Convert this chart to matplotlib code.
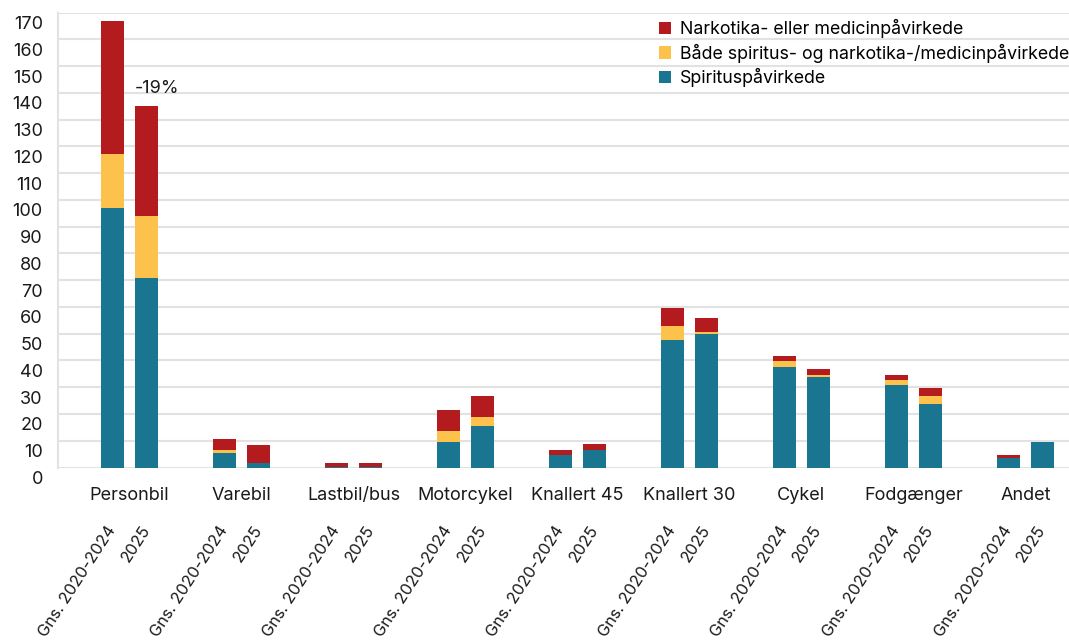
import numpy as np
import matplotlib
matplotlib.use("Agg")
from matplotlib import pyplot as plt
from matplotlib import transforms

plt.rcParams['font.family'] = ['Inter', 'DejaVu Sans']

categories = ["Personbil", "Varebil", "Lastbil/bus", "Motorcykel", "Knallert 45",
              "Knallert 30", "Cykel", "Fodgænger", "Andet"]
periods = ["Gns. 2020-2024", "2025"]

# values per category: (Gns. 2020-2024, 2025)
spiritus = [(97, 71), (5.5, 1.5), (0.2, 0.2), (9.5, 15.5), (4.7, 6.5),
            (47.7, 49.9), (37.6, 33.8), (30.8, 23.7), (3.6, 9.5)]
begge = [(20, 23), (1, 0), (0.1, 0), (4.1, 3.4), (0, 0),
         (5.2, 0.8), (2.2, 0.8), (1.9, 3.0), (0, 0)]
narko = [(50, 41), (4.1, 7), (1.4, 1.4), (7.9, 7.8), (1.8, 2.3),
         (6.7, 5.2), (1.9, 2.2), (1.9, 3.0), (1.1, 0)]

series_labels = ["Spirituspåvirkede",
                 "Både spiritus- og narkotika-/medicinpåvirkede",
                 "Narkotika- eller medicinpåvirkede"]
colors = ["#1a7690", "#fdc24b", "#b31b1e"]

annotation = "-19%"
txt = '#1a1a1a'

fig = plt.figure(figsize=(10.69, 6.42), dpi=100)
ax = fig.add_axes([0.0543, 0.2718, 0.9457, 0.7084])

x = np.arange(len(categories))
offsets = [-0.152, 0.152]
width = 0.205

handles = []
for j, off in enumerate(offsets):
    bottom = np.zeros(len(categories))
    for k, data in enumerate([spiritus, begge, narko]):
        vals = np.array([d[j] for d in data])
        h = ax.bar(x + off, vals, width, bottom=bottom, color=colors[k],
                   label=series_labels[k] if j == 0 else None, zorder=3)
        if j == 0:
            handles.append(h)
        bottom += vals
    if j == 1:
        totals_2025 = bottom

ax.text(x[0] + offsets[1] - width / 2, totals_2025[0] + 6.5, annotation,
        ha='left', va='center', fontsize=13, color=txt)

ax.set_xlim(-0.638, 8.39)
ax.set_ylim(0, 170)
ax.set_yticks(np.arange(0, 171, 10))
ax.grid(axis='y', color='#e2e2e2', linewidth=1.5, zorder=0)
for s in ['top', 'right', 'bottom']:
    ax.spines[s].set_visible(False)
ax.spines['left'].set_color('#e2e2e2')
ax.spines['left'].set_linewidth(1.5)
ax.tick_params(axis='y', length=0, pad=11, labelsize=13, labelcolor=txt)

offset = transforms.ScaledTranslation(0, -10 / 100, fig.dpi_scale_trans)
for lab in ax.get_yticklabels():
    lab.set_transform(lab.get_transform() + offset)

ticks = np.concatenate([x + offsets[0], x + offsets[1]])
labels = [periods[0]] * len(x) + [periods[1]] * len(x)
ax.set_xticks(ticks)
ax.set_xticklabels(labels, rotation=57, ha='right', va='center',
                   rotation_mode='anchor', fontsize=11.8, color=txt)
ax.tick_params(axis='x', length=0, pad=43)

for i, c in enumerate(categories):
    ax.text(x[i], -0.062, c, transform=ax.get_xaxis_transform(),
            ha='center', va='center', fontsize=13, color=txt)

ax.legend(handles[::-1], series_labels[::-1], loc='upper left',
          bbox_to_anchor=(652 / 1069, 1 - 12 / 642), bbox_transform=fig.transFigure,
          frameon=False, fontsize=12.8, handlelength=0.68, handleheight=0.68,
          handletextpad=0.5, labelspacing=0.3, borderaxespad=0)

fig.savefig("out.png", dpi=100)
